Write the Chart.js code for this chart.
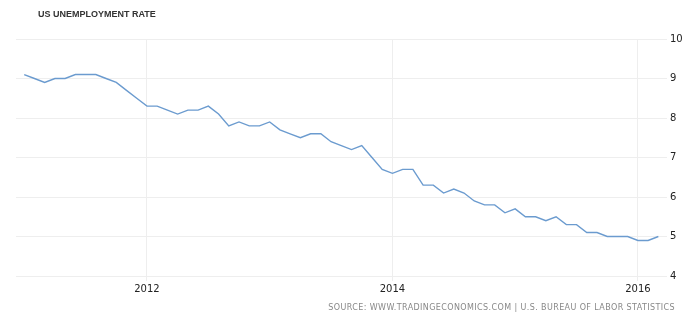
<!DOCTYPE html>
<html>
<head>
<meta charset="utf-8">
<script src="https://cdn.jsdelivr.net/npm/chart.js@4"></script>
<style>
  html, body { margin: 0; padding: 0; background: #fff; }
  #wrap { position: relative; width: 700px; height: 326px; }
  #chart { position: absolute; left: 0; top: 0; }
  .title {
    position: absolute; left: 38px; top: 9px;
    font: bold 9px "Liberation Sans", sans-serif; color: #333;
  }
  .source {
    position: absolute; right: 25px; top: 303px;
    font: 8px "DejaVu Sans", sans-serif; color: #888; letter-spacing: 0.4px;
  }
</style>
</head>
<body>
<div id="wrap">
  <canvas id="chart" width="700" height="326"></canvas>
  <div class="title">US UNEMPLOYMENT RATE</div>
  <div class="source">SOURCE: WWW.TRADINGECONOMICS.COM | U.S. BUREAU OF LABOR STATISTICS</div>
</div>
<script>
/* Monthly US unemployment rate, Jan 2011 - Mar 2016 */
const START_YEAR = 2011;
const rates = [
  9.1, 9.0, 8.9, 9.0, 9.0, 9.1, 9.1, 9.1, 9.0, 8.9, 8.7, 8.5,
  8.3, 8.3, 8.2, 8.1, 8.2, 8.2, 8.3, 8.1, 7.8, 7.9, 7.8, 7.8,
  7.9, 7.7, 7.6, 7.5, 7.6, 7.6, 7.4, 7.3, 7.2, 7.3, 7.0, 6.7,
  6.6, 6.7, 6.7, 6.3, 6.3, 6.1, 6.2, 6.1, 5.9, 5.8, 5.8, 5.6,
  5.7, 5.5, 5.5, 5.4, 5.5, 5.3, 5.3, 5.1, 5.1, 5.0, 5.0, 5.0,
  4.9, 4.9, 5.0
];
const xTicks = [2012, 2014, 2016];
const yMin = 4, yMax = 10, yStep = 1;

const LINE = "#6b9bcf";
const GRID = "#eeeeee";
const TICK = "#222";

const points = rates.map((v, i) => ({ x: START_YEAR + i / 12, y: v }));

new Chart(document.getElementById("chart"), {
  type: "line",
  data: {
    datasets: [{
      data: points,
      borderColor: LINE,
      borderWidth: 1.4,
      pointRadius: 0,
      tension: 0,
      fill: false
    }]
  },
  options: {
    responsive: false,
    animation: false,
    layout: { padding: { left: 16, top: 39, right: 0, bottom: 0 } },
    plugins: { legend: { display: false }, tooltip: { enabled: false } },
    scales: {
      x: {
        type: "linear",
        min: 2010.933,
        max: 2016.18,
        afterBuildTicks: (s) => { s.ticks = xTicks.map(v => ({ value: v })); },
        afterFit: (s) => { s.height = 50; },
        grid: { color: GRID, tickLength: 5, drawOnChartArea: true },
        border: { display: false },
        ticks: {
          padding: 2,
          color: TICK,
          font: { family: "DejaVu Sans", size: 10 },
          callback: (v) => String(v)
        }
      },
      y: {
        position: "right",
        min: yMin,
        max: yMax,
        afterFit: (s) => { s.width = 40; },
        grid: { color: GRID, tickLength: 7 },
        border: { display: false },
        ticks: {
          stepSize: yStep,
          padding: 3,
          color: TICK,
          font: { family: "DejaVu Sans", size: 10 }
        }
      }
    }
  }
});
</script>
</body>
</html>
